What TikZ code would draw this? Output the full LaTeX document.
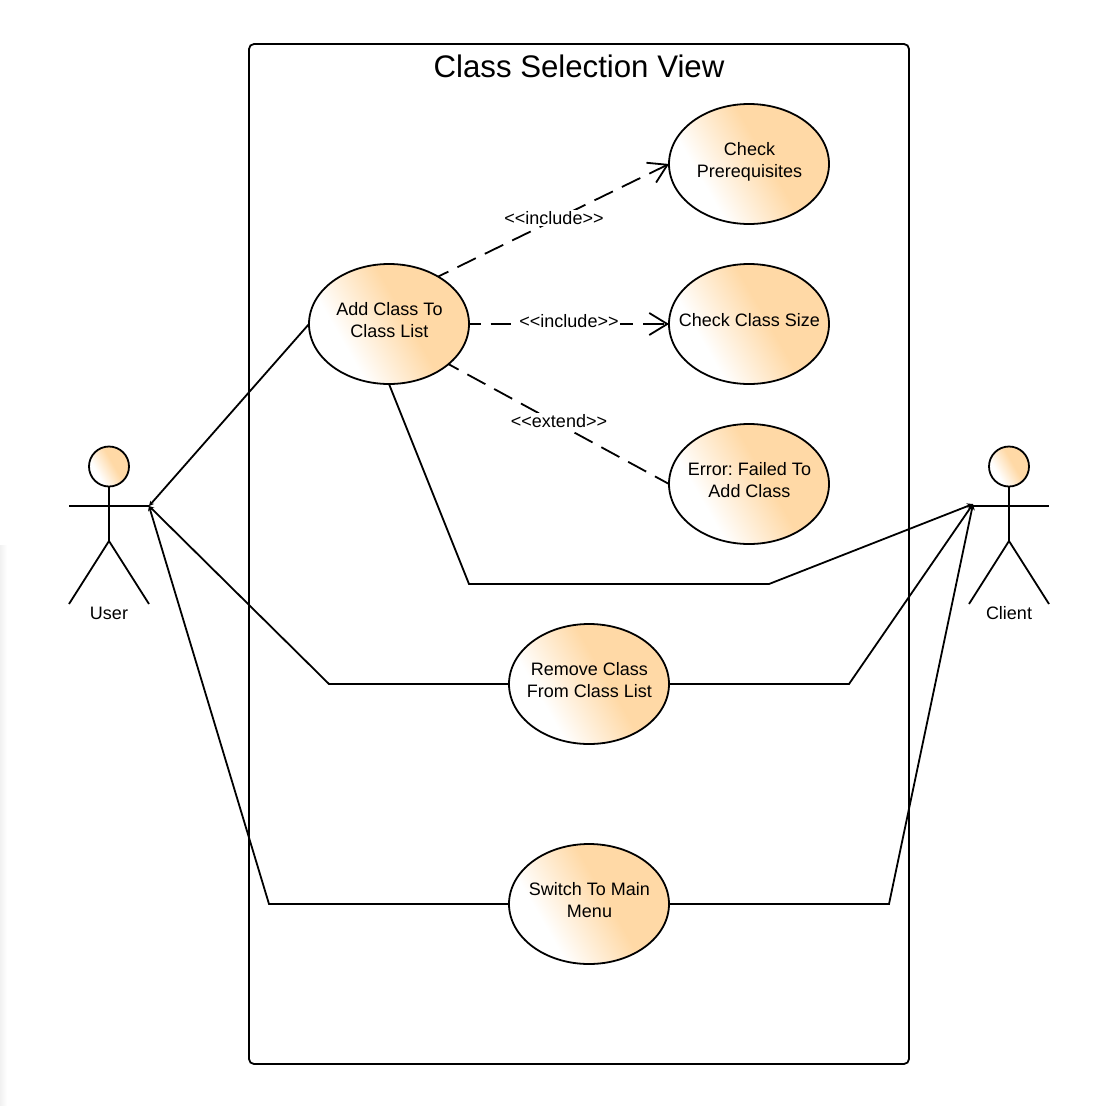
\documentclass[tikz,border=0pt]{standalone}
\usepackage{fontspec}
\setmainfont{Liberation Sans}
\usetikzlibrary{shapes.geometric,arrows.meta}
\definecolor{ucfill}{HTML}{FFD9A6}
\definecolor{edge}{HTML}{F1F1F1}
\pgfdeclarehorizontalshading{ucshade}{100bp}{color(0bp)=(white); color(33bp)=(white); color(56bp)=(ucfill); color(100bp)=(ucfill)}
\pgfdeclarehorizontalshading{edgeshade}{100bp}{color(0bp)=(edge); color(25bp)=(edge); color(75bp)=(white); color(100bp)=(white)}
\newcommand\uctext[1]{\smash{\raisebox{-2.6pt}{\hspace*{1pt}\makebox[0pt]{\begin{tabular}{@{}c@{}}#1\end{tabular}}}}}
\tikzset{
  x=1pt,y=-1pt,
  every node/.style={font=\fontsize{18}{22}\selectfont\frenchspacing,text=black},
  usecase/.style={ellipse,draw=black,line width=1.8pt,shading=ucshade,shading angle=30,minimum width=160pt,minimum height=120pt,inner sep=0pt,outer sep=0pt},
  head/.style={circle,draw=black,line width=1.8pt,shading=ucshade,shading angle=30,minimum size=40pt,inner sep=0pt,outer sep=0pt},
  conn/.style={line width=1.8pt,draw=black,line join=miter},
  assoc/.style={conn,-{Stealth[length=6pt,width=6pt]}},
  assocu/.style={conn,{Stealth[length=5pt,width=5pt]}-},
  dep/.style={conn,dash pattern=on 20.5pt off 10pt,dash phase=9pt,-{Straight Barb[length=18pt,width=22pt,line width=1.8pt]}},
  depplain/.style={conn,dash pattern=on 20.5pt off 10pt,dash phase=9pt},
  lbl/.style={fill=white,inner sep=1pt},
  limb/.style={line width=1.8pt,draw=black},
}
\begin{document}
\begin{tikzpicture}
\useasboundingbox (0,0) rectangle (1102,1106);
\fill[white] (0,0) rectangle (1102,1106);
\shade[shading=edgeshade] (0,545) rectangle (7,1106);
% system boundary
\node[draw=black,line width=1.8pt,rounded corners=5pt,minimum width=660pt,minimum height=1020pt,inner sep=0pt,outer sep=0pt] (frame) at (579,554) {};
\node[font=\fontsize{31.2}{38}\selectfont] (title) at (579,66) {Class Selection View};
% use cases
\node[usecase] (add) at (389,324) {\uctext{Add Class To\\Class List}};
\node[usecase] (check) at (749,164) {\uctext{Check\\Prerequisites}};
\node[usecase] (size) at (749,324) {\uctext{Check Class Size}};
\node[usecase] (err) at (749,484) {\uctext{Error: Failed To\\Add Class}};
\node[usecase] (remove) at (589,684) {\uctext{Remove Class\\From Class List}};
\node[usecase] (switch) at (589,904) {\uctext{Switch To Main\\Menu}};
% actors
\node[head] (userhead) at (109,466.5) {};
\coordinate (userhip) at (109,541);
\coordinate (userl) at (69,506);
\coordinate (userhand) at (149,506);
\coordinate (userfootl) at (69,604);
\coordinate (userfootr) at (149,604);
\draw[limb] (userhead) -- (userhip);
\draw[limb] (userl) -- (userhand);
\draw[limb,line join=miter] (userfootl) -- (userhip) -- (userfootr);
\node (userlabel) at (109,613) {User};
\node[head] (clienthead) at (1009,466.5) {};
\coordinate (clienthip) at (1009,541);
\coordinate (clientl) at (969,506);
\coordinate (clientr) at (1049,506);
\coordinate (clienthand) at (973,504);
\coordinate (clientfootl) at (969,604);
\coordinate (clientfootr) at (1049,604);
\draw[limb] (clienthead) -- (clienthip);
\draw[limb] (clientl) -- (clientr);
\draw[limb] (clientfootl) -- (clienthip) -- (clientfootr);
\node (clientlabel) at (1009,613) {Client};
% associations
\draw[assocu] (userhand) -- (add.west);
\draw[assocu] (userhand) -- (329,684) -- (remove.west);
\draw[assocu] (userhand) -- (269,904) -- (switch.west);
\draw[assoc] (add.south) -- (469,584) -- (769,584) -- (clienthand);
\draw[assoc] (remove.east) -- (849,684) -- (clienthand);
\draw[assoc] (switch.east) -- (889,904) -- (clienthand);
% dependencies
\draw[dep] (add.44) -- (check.west);
\draw[dep] (add.east) -- (size.west);
\draw[depplain] (add.-34) -- (err.west);
\node[lbl] (inc1) at (554,218) {<{}<include>{}>};
\node[lbl] (inc2) at (569,321) {<{}<include>{}>};
\node[lbl] (ext) at (559,421) {<{}<extend>{}>};
\end{tikzpicture}
\end{document}
